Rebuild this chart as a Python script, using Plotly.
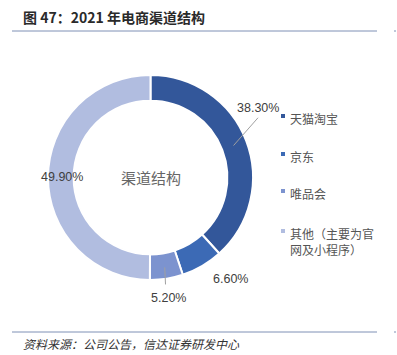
import math
import plotly.graph_objects as go

# ---- data ----
categories = ["天猫淘宝", "京东", "唯品会", "其他（主要为官网及小程序）"]
legend_labels = ["天猫淘宝", "京东", "唯品会", "其他（主要为官<br>网及小程序）"]
shares = [38.3, 6.6, 5.2, 49.9]
center_text = "渠道结构"
title_text = "图 47：2021 年电商渠道结构"
source_text = "资料来源：公司公告，信达证券研发中心"

# ---- style ----
colors = ["#33579a", "#3c6ab5", "#7c93cf", "#b1bde0"]
W, H = 397, 355
CX, CY, R = 150.5, 177.5, 102.5
HOLE = 0.75
# label placement (radius in px, angle shift in degrees from slice mid)
label_r = [128, 129, 122, 88.5]
label_shift = [-11.8, -8.0, 0.5, 0.0]
leader = [(89, 123, -8), None, (91, 108, 1), None]  # r_start, r_end, end angle shift

def px(x):
    return x / W

def py(y):
    return 1 - y / H

fig = go.Figure()
fig.add_trace(go.Pie(
    labels=categories, values=shares, sort=False, direction="clockwise",
    rotation=0, hole=HOLE, textinfo="none", hoverinfo="label+percent",
    marker=dict(colors=colors, line=dict(color="white", width=2)),
    domain=dict(x=[px(CX - R), px(CX + R)], y=[py(CY + R), py(CY - R)]),
    showlegend=False,
))

total = sum(shares)
annotations = []
shapes = []
cum = 0
for i, v in enumerate(shares):
    mid = (cum + v / 2) / total * 360
    cum += v
    a = math.radians(mid + label_shift[i])
    lx = CX + label_r[i] * math.sin(a)
    ly = CY - label_r[i] * math.cos(a)
    annotations.append(dict(
        x=px(lx), y=py(ly), xref="paper", yref="paper", showarrow=False,
        text=f"{v:.2f}%", font=dict(family="Liberation Sans, Arial", size=12.5, color="#404040"),
        xanchor="center", yanchor="middle"))
    if leader[i]:
        r0, r1, sh = leader[i]
        a0 = math.radians(mid)
        a1 = math.radians(mid + sh)
        shapes.append(dict(type="line", xref="paper", yref="paper",
                           x0=px(CX + r0 * math.sin(a0)), y0=py(CY - r0 * math.cos(a0)),
                           x1=px(CX + r1 * math.sin(a1)), y1=py(CY - r1 * math.cos(a1)),
                           line=dict(color="#a0a0a0", width=1)))

# center text
annotations.append(dict(x=px(CX), y=py(CY), xref="paper", yref="paper", showarrow=False,
                        text=center_text, font=dict(family="Noto Sans CJK SC", size=15, color="#666666")))

# legend (manual)
leg_y = [116, 154, 191, 231]
for i, lab in enumerate(legend_labels):
    y = leg_y[i]
    shapes.append(dict(type="rect", xref="paper", yref="paper",
                       x0=px(281), x1=px(285), y0=py(y + 2), y1=py(y - 2),
                       fillcolor=colors[i], line=dict(width=0)))
    annotations.append(dict(x=px(288), y=py(y - 8), xref="paper", yref="paper", showarrow=False,
                            text=lab, align="left", xanchor="left", yanchor="top",
                            font=dict(family="Noto Sans CJK SC", size=12, color="#555555")))

# title and source
annotations.append(dict(x=px(21), y=py(17), xref="paper", yref="paper", showarrow=False,
                        text=f"<b>{title_text}</b>", xanchor="left", yanchor="middle",
                        font=dict(family="Noto Sans CJK SC", size=14, color="#2a2a2a")))
annotations.append(dict(x=px(21), y=py(343), xref="paper", yref="paper", showarrow=False,
                        text=f"<i>{source_text}</i>", xanchor="left", yanchor="middle",
                        font=dict(family="Noto Sans CJK SC", size=12, color="#333333")))
for yy in (31, 332):
    shapes.append(dict(type="line", xref="paper", yref="paper", x0=px(12), x1=px(377),
                       y0=py(yy), y1=py(yy), line=dict(color="#7f90b5", width=1)))
    shapes.append(dict(type="line", xref="paper", yref="paper", x0=px(394), x1=px(396),
                       y0=py(yy), y1=py(yy), line=dict(color="#7f90b5", width=1)))

fig.update_layout(width=W, height=H, margin=dict(l=0, r=0, t=0, b=0),
                  paper_bgcolor="white", plot_bgcolor="white",
                  annotations=annotations, shapes=shapes)
fig.write_html("out.html", config={"displayModeBar": False},
               post_script="document.body.style.margin='0';document.body.style.overflow='hidden';")
